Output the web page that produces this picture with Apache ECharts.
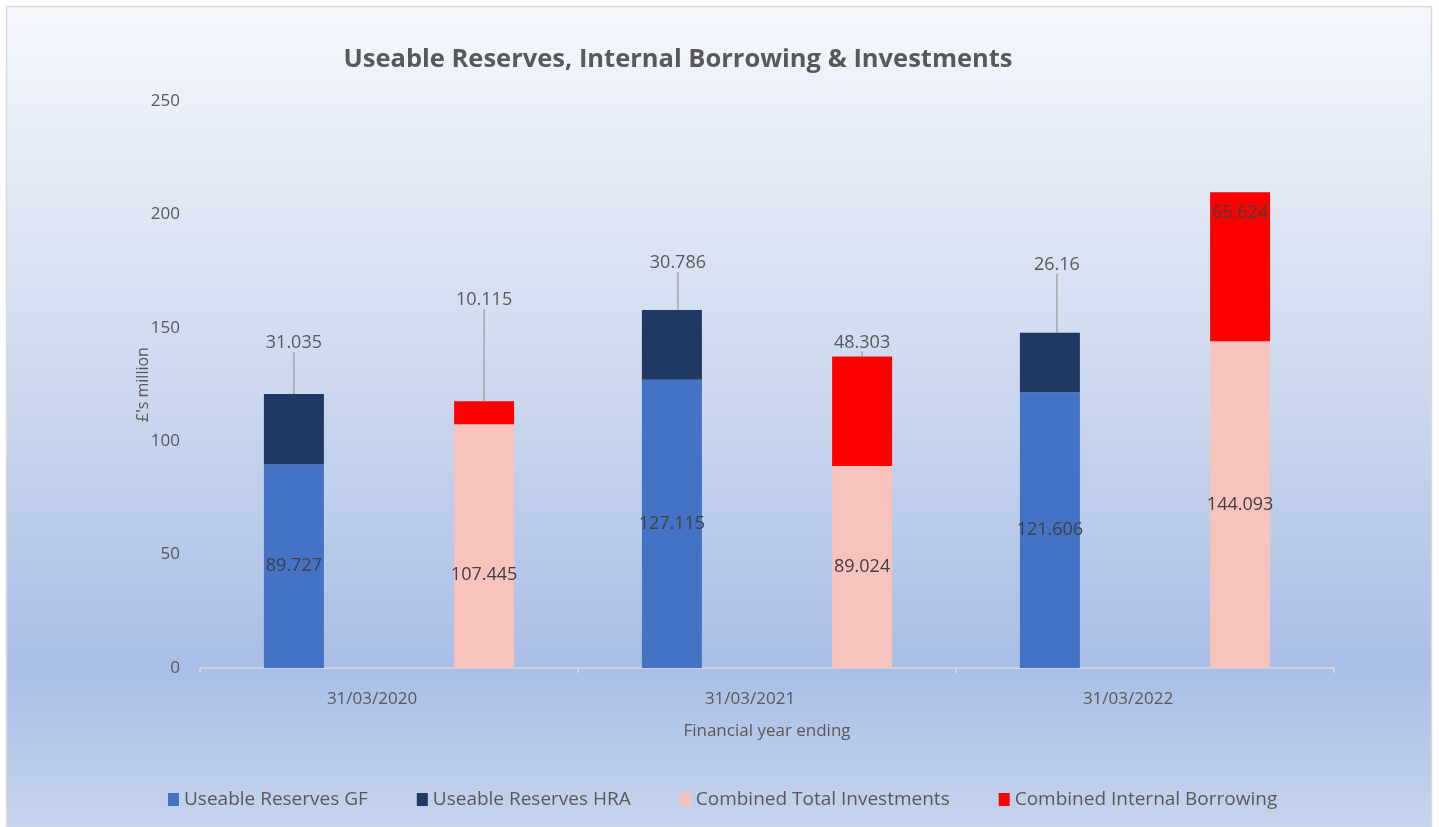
<!DOCTYPE html>
<html>
<head>
<meta charset="utf-8">
<script src="https://cdn.jsdelivr.net/npm/echarts@6/dist/echarts.min.js"></script>
<style>
  html, body { margin: 0; padding: 0; background: #fff; }
  #main { width: 1439px; height: 827px; }
</style>
</head>
<body>
<div id="main"></div>
<script>
const categories = ['31/03/2020', '31/03/2021', '31/03/2022'];
const reservesGF = [89.727, 127.115, 121.606];
const reservesHRA = [31.035, 30.786, 26.16];
const totalInvestments = [107.445, 89.024, 144.093];
const internalBorrowing = [10.115, 48.303, 65.624];
const yTicks = [0, 50, 100, 150, 200, 250];

const font = '"Open Sans", "Noto Sans", sans-serif';
const grey = '#595959';

// where Excel put the labels, moved by hand
const hraShift = [[0, -37], [6, -33], [7, -54]];
const borrowShift = [[0, -87], [0, 0], [0, 0]];
const investShift = [[0, 29], [0, 0], [0, 0]];

let chart = echarts.init(document.getElementById('main'));

chart.setOption({
  animation: false,
  textStyle: {fontFamily: font},
  graphic: [{
    type: 'rect',
    z: -100,
    shape: {x: 6.5, y: 6.5, width: 1425, height: 825},
    style: {
      fill: new echarts.graphic.LinearGradient(0, 0, 0, 1, [
        {offset: 0, color: '#f5f8fd'},
        {offset: 0.45, color: '#cdd9ef'},
        {offset: 0.8, color: '#a9bee6'},
        {offset: 1, color: '#c6d5ee'}
      ]),
      stroke: '#d9d9d9',
      lineWidth: 1.5
    }
  }],
  title: {
    text: 'Useable Reserves, Internal Borrowing & Investments',
    left: 673,
    top: 42,
    textAlign: 'center',
    textStyle: {fontFamily: font, fontSize: 25.5, fontWeight: 'bold', color: grey}
  },
  legend: {
    bottom: 13,
    left: 163,
    itemGap: 49,
    itemWidth: 11,
    itemHeight: 13,
    icon: 'rect',
    textStyle: {fontFamily: font, fontSize: 19, color: grey},
    data: ['Useable Reserves GF', 'Useable Reserves HRA', 'Combined Total Investments', 'Combined Internal Borrowing']
  },
  grid: {left: 200, right: 105, top: 101, bottom: 159},
  xAxis: {
    type: 'category',
    data: categories,
    name: 'Financial year ending',
    nameLocation: 'middle',
    nameGap: 55,
    nameTextStyle: {fontFamily: font, fontSize: 17, color: grey},
    axisLine: {lineStyle: {color: '#d9d9d9', width: 1.5}},
    axisTick: {show: true, length: 5, lineStyle: {color: '#d9d9d9', width: 1.5}},
    axisLabel: {fontFamily: font, fontSize: 17, color: grey, margin: 23, padding: [0, 34, 0, 0]}
  },
  yAxis: {
    type: 'value',
    min: yTicks[0],
    max: yTicks[yTicks.length - 1],
    interval: 50,
    name: '£\'s million',
    nameLocation: 'middle',
    nameGap: 49,
    nameMoveOverlap: false,
    nameTextStyle: {fontFamily: font, fontSize: 16, color: grey},
    splitLine: {show: false},
    axisLine: {show: false},
    axisTick: {show: false},
    axisLabel: {fontFamily: font, fontSize: 17, color: grey, margin: 20}
  },
  series: [
    {
      name: 'Useable Reserves GF',
      type: 'bar',
      stack: 'reserves',
      barWidth: 60,
      barGap: '217%',
      data: reservesGF,
      itemStyle: {color: '#4472c4'},
      label: {show: true, position: 'inside', fontSize: 18, color: '#404040'}
    },
    {
      name: 'Useable Reserves HRA',
      type: 'bar',
      stack: 'reserves',
      barWidth: 60,
      barGap: '217%',
      data: reservesHRA,
      itemStyle: {color: '#203864'},
      label: {show: true, position: 'top', fontSize: 18, color: grey},
      labelLine: {show: true, lineStyle: {color: '#a6a6a6', width: 1.5}},
      labelLayout: function (p) {
        return {dx: hraShift[p.dataIndex][0], dy: hraShift[p.dataIndex][1]};
      }
    },
    {
      name: 'Combined Total Investments',
      type: 'bar',
      stack: 'investments',
      barWidth: 60,
      barGap: '217%',
      data: totalInvestments,
      itemStyle: {color: '#f8c3bc'},
      label: {show: true, position: 'inside', fontSize: 18, color: '#404040'},
      labelLayout: function (p) {
        return {dx: investShift[p.dataIndex][0], dy: investShift[p.dataIndex][1]};
      }
    },
    {
      name: 'Combined Internal Borrowing',
      type: 'bar',
      stack: 'investments',
      barWidth: 60,
      barGap: '217%',
      data: internalBorrowing.map(function (v, i) {
        if (i === 2) {
          return {value: v, label: {position: 'insideTop', distance: 12, color: '#404040'}};
        }
        return v;
      }),
      itemStyle: {color: '#ff0000'},
      label: {show: true, position: 'top', fontSize: 18, color: grey},
      labelLine: {show: true, lineStyle: {color: '#a6a6a6', width: 1.5}},
      labelLayout: function (p) {
        return {dx: borrowShift[p.dataIndex][0], dy: borrowShift[p.dataIndex][1]};
      }
    }
  ]
});
</script>
</body>
</html>
